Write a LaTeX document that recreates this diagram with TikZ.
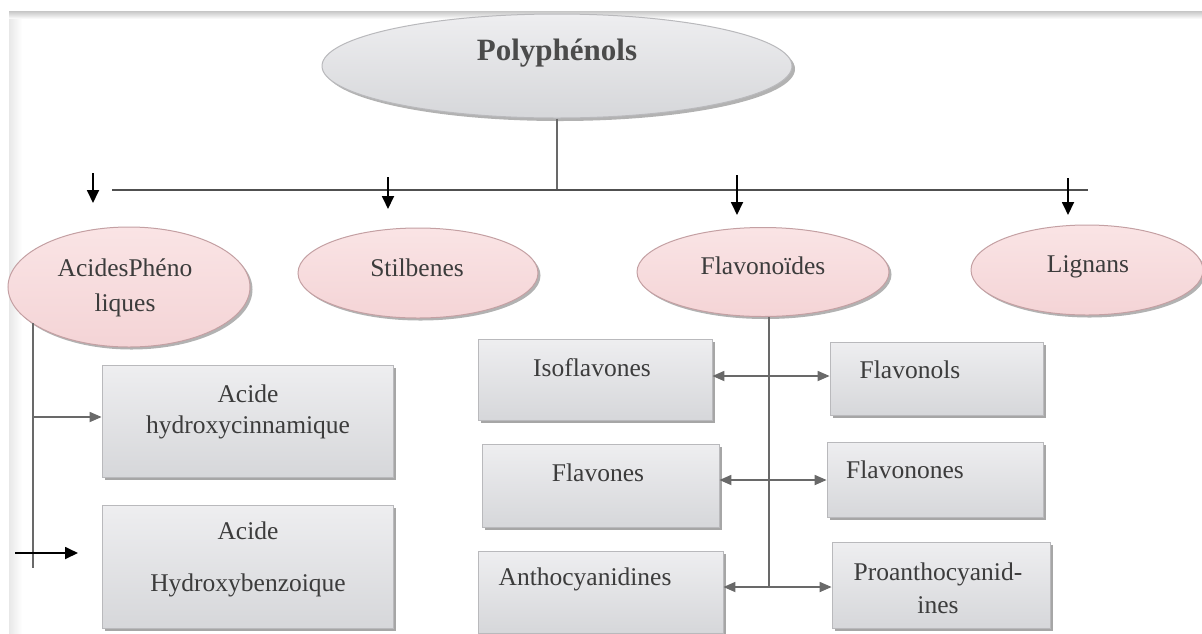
\documentclass[tikz,border=0pt]{standalone}
\usepackage{fontspec}
\setmainfont{Liberation Serif}
\usetikzlibrary{shapes.geometric,arrows.meta,shadows}
\definecolor{txtc}{RGB}{60,60,60}
\definecolor{linec}{RGB}{105,105,105}
\definecolor{busc}{RGB}{80,80,80}
\definecolor{pinkT}{RGB}{250,228,229}
\definecolor{pinkB}{RGB}{244,212,214}
\definecolor{pinkD}{RGB}{196,160,163}
\definecolor{grayT}{RGB}{238,238,240}
\definecolor{grayB}{RGB}{214,215,218}
\definecolor{grayD}{RGB}{185,185,188}
\tikzset{
  pinkell/.style={ellipse, inner sep=0pt, draw=pinkD, line width=1pt,
    top color=pinkT, bottom color=pinkB,
    drop shadow={shadow xshift=2.5pt, shadow yshift=-2.5pt, fill=black, opacity=0.3}},
  polyell/.style={ellipse, inner sep=0pt, draw=grayD, line width=1pt,
    top color=grayT, bottom color=grayB,
    drop shadow={shadow xshift=3pt, shadow yshift=-3pt, fill=black, opacity=0.3}},
  graybox/.style={rectangle, inner sep=0pt, draw=grayD, line width=0.8pt,
    top color=grayT, bottom color=grayB,
    drop shadow={shadow xshift=2.5pt, shadow yshift=-2.5pt, fill=black, opacity=0.35}},
  txt/.style={text=txtc, font=\fontsize{25.5}{30}\selectfont, align=center, inner sep=0pt},
  blackarrow/.style={draw=black, line width=1.8pt, -{Triangle[length=13pt,width=12pt]}},
  garrow/.style={draw=linec, line width=1.7pt, -{Triangle[length=12pt,width=10pt]}},
  gline/.style={draw=linec, line width=1.8pt},
  busline/.style={draw=busc, line width=2pt}
}
\begin{document}
\begin{tikzpicture}[x=1pt,y=-1pt]
\useasboundingbox (0,0) rectangle (1202,633);
\fill[white] (0,0) rectangle (1202,633);
% page edges
\shade[top color=gray!45, bottom color=white] (9,11) rectangle (1202,19);
\shade[left color=gray!18, right color=white] (9,19) rectangle (22,633);

% top node
\node[polyell, minimum width=470pt, minimum height=104pt] (poly) at (557,66) {};
\node[txt, font=\fontsize{31}{36}\selectfont\bfseries, text={rgb,255:red,75;green,75;blue,75}] (polyt) at (557,53) {Polyphénols};

% bus
\coordinate (junc) at (557,190);
\coordinate (busL) at (112,190);
\coordinate (busR) at (1088,190);
\draw[gline] (poly.south) -- (junc);
\draw[busline] (busL) -- (busR);

% second level ellipses
\node[pinkell, minimum width=242pt, minimum height=120pt] (acid) at (129,287) {};
\node[txt] (acidt) at (125,288) {AcidesPhéno\\[5pt]liques};
\node[pinkell, minimum width=240pt, minimum height=90pt] (stil) at (418,273) {};
\node[txt] (stilt) at (417,268) {Stilbenes};
\node[pinkell, minimum width=252pt, minimum height=89pt] (flav) at (763,272) {};
\node[txt] (flavt) at (763,266) {Flavonoïdes};
\node[pinkell, minimum width=232pt, minimum height=90pt] (lign) at (1087,270) {};
\node[txt] (lignt) at (1088,267) {Lignans};

% top-level arrows
\coordinate (a1s) at (93,173);  \coordinate (a1e) at (93,203);
\coordinate (a2s) at (388,177); \coordinate (a2e) at (388,209);
\coordinate (a3s) at (737,175); \coordinate (a3e) at (737,215);
\coordinate (a4s) at (1068,178);\coordinate (a4e) at (1068,215);
\draw[blackarrow] (a1s) -- (a1e);
\draw[blackarrow] (a2s) -- (a2e);
\draw[blackarrow] (a3s) -- (a3e);
\draw[blackarrow] (a4s) -- (a4e);

% acides phenoliques branch
\node[graybox, minimum width=291pt, minimum height=112pt] (hc) at (247.5,421) {};
\node[txt] (hct) at (248,412) {Acide\\[1pt]hydroxycinnamique};
\node[graybox, minimum width=291pt, minimum height=123pt] (hb) at (247.5,566.5) {};
\node[txt] (hbt) at (248,559) {Acide\\[22pt]Hydroxybenzoique};
\coordinate (av1) at (33,323);
\coordinate (av2) at (33,568);
\coordinate (ahc) at (33,417);
\draw[gline] (av1) -- (av2);
\draw[garrow] (ahc) -- (ahc -| hc.west);
\coordinate (ba1) at (15,553);
\coordinate (ba2) at (78,553);
\draw[blackarrow] (ba1) -- (ba2);

% flavonoides branch
\node[graybox, minimum width=234pt, minimum height=81pt] (iso) at (595,379.5) {};
\node[txt] (isot) at (592,368) {Isoflavones};
\node[graybox, minimum width=237pt, minimum height=83pt] (fvs) at (600.5,485.5) {};
\node[txt] (fvst) at (598,473) {Flavones};
\node[graybox, minimum width=245pt, minimum height=82pt] (ant) at (600.5,592) {};
\node[txt] (antt) at (585,579) {Anthocyanidines};
\node[graybox, minimum width=213pt, minimum height=73pt] (fnl) at (936.5,378.5) {};
\node[txt] (fnlt) at (910,370) {Flavonols};
\node[graybox, minimum width=216pt, minimum height=75pt] (fnn) at (935,479.5) {};
\node[txt] (fnnt) at (905,470) {Flavonones};
\node[graybox, minimum width=218pt, minimum height=86pt] (pro) at (941,585) {};
\node[txt] (prot) at (938,588) {Proanthocyanid-\\[3pt]ines};

\coordinate (fv1) at (769,317);
\coordinate (fv2) at (769,587);
\draw[gline] (fv1) -- (fv2);
\coordinate (r1) at (769,376);
\coordinate (r2) at (769,480);
\coordinate (r3) at (769,587);
\draw[garrow] (r1) -- (r1 -| iso.east);
\draw[garrow] (r1) -- (r1 -| fnl.west);
\draw[garrow] (r2) -- (r2 -| fvs.east);
\draw[garrow] (r2) -- (r2 -| fnn.west);
\draw[garrow] (r3) -- (r3 -| ant.east);
\draw[garrow] (r3) -- (r3 -| pro.west);
\end{tikzpicture}
\end{document}
